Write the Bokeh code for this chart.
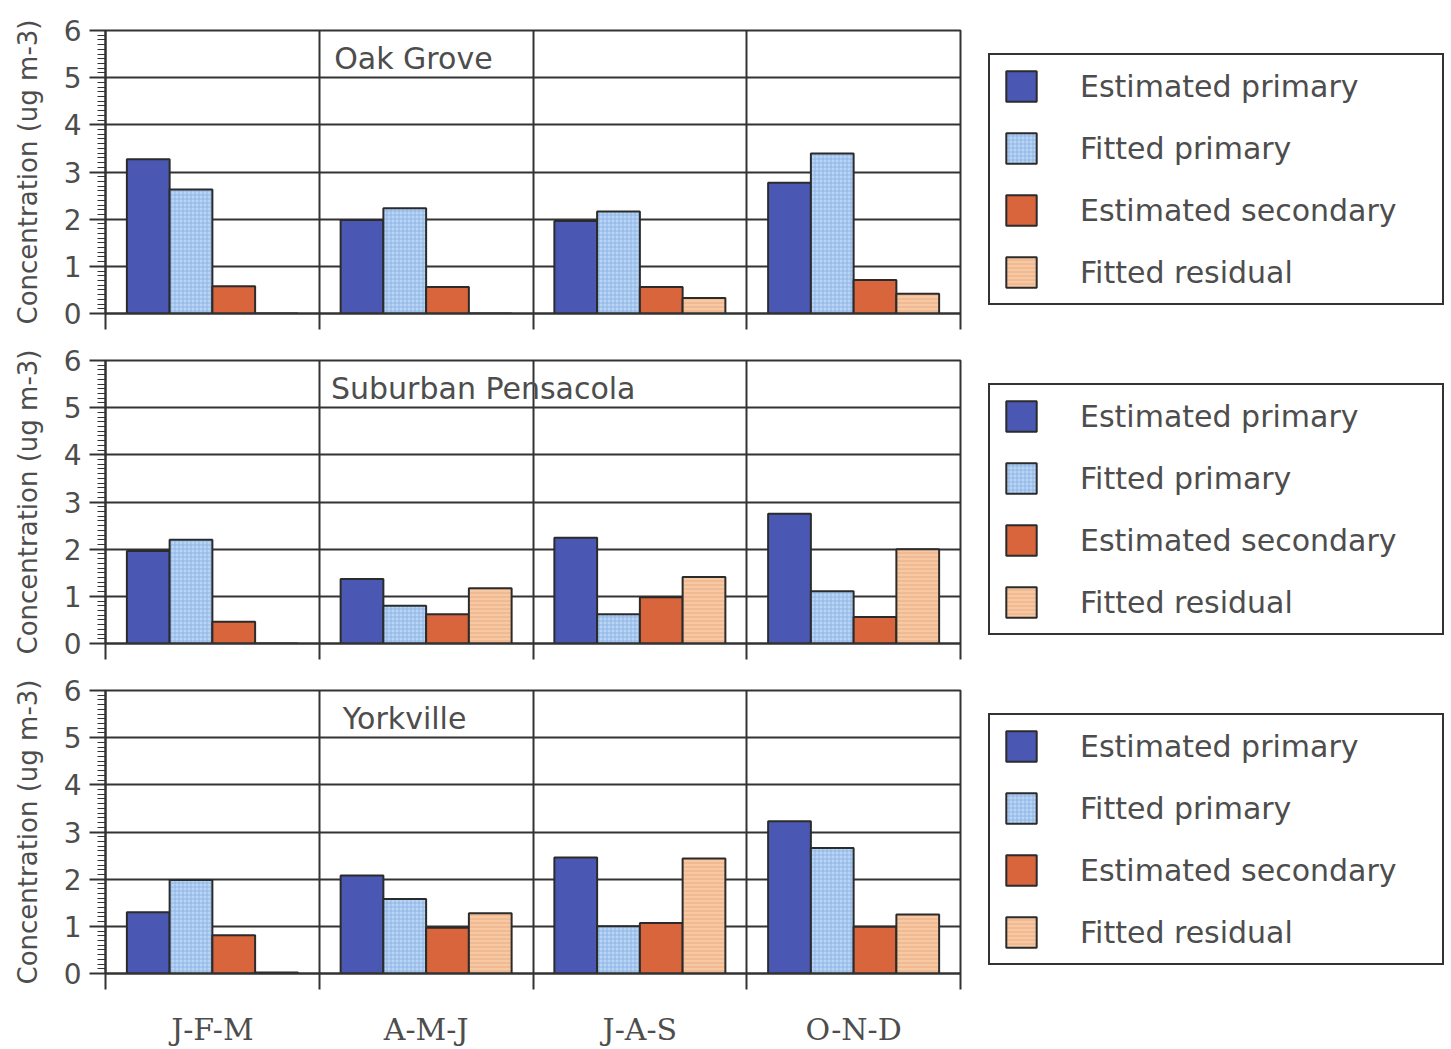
from bokeh.plotting import figure
from bokeh.models import Range1d, FixedTicker, Legend, LegendItem, Label
from bokeh.layouts import column
from bokeh.embed import file_html
from bokeh.resources import INLINE

# ---------------- data ----------------
seasons = ["J-F-M", "A-M-J", "J-A-S", "O-N-D"]
series_names = ["Estimated primary", "Fitted primary", "Estimated secondary", "Fitted residual"]
sites = ["Oak Grove", "Suburban Pensacola", "Yorkville"]

oak_est_primary = [3.27, 1.98, 1.96, 2.77]
oak_fit_primary = [2.63, 2.23, 2.16, 3.39]
oak_est_secondary = [0.58, 0.56, 0.56, 0.71]
oak_fit_residual = [0.0, 0.0, 0.33, 0.42]

pen_est_primary = [1.96, 1.37, 2.24, 2.75]
pen_fit_primary = [2.20, 0.80, 0.62, 1.11]
pen_est_secondary = [0.46, 0.62, 0.98, 0.56]
pen_fit_residual = [0.0, 1.17, 1.41, 2.00]

york_est_primary = [1.30, 2.08, 2.46, 3.23]
york_fit_primary = [1.98, 1.58, 1.00, 2.66]
york_est_secondary = [0.81, 0.97, 1.07, 0.99]
york_fit_residual = [0.02, 1.28, 2.44, 1.25]

y_ticks = [0, 1, 2, 3, 4, 5, 6]

site_data = [
    [oak_est_primary, oak_fit_primary, oak_est_secondary, oak_fit_residual],
    [pen_est_primary, pen_fit_primary, pen_est_secondary, pen_fit_residual],
    [york_est_primary, york_fit_primary, york_est_secondary, york_fit_residual],
]
title_x = [1.07, 1.055, 1.11]

# ---------------- style ----------------
fills = ["#4a58b4", "#b8d5f6", "#d8653b", "#f7c8a2"]
hatches = [None, "+", None, "-"]
hatch_colors = ["#4a58b4", "#8aaedf", "#d8653b", "#e2a57e"]
offsets = [-0.3, -0.1, 0.1, 0.3]
bar_w = 0.2
dark = "#333333"
txt = "#4d4d4d"
sans = "DejaVu Sans"

L_B, R_B, T_B = 105, 37, 30
FRAME_W, FRAME_H = 855, 283

figs = []
for k, site in enumerate(sites):
    last = (k == len(sites) - 1)
    bottom = 76 if last else 17
    p = figure(frame_width=FRAME_W, frame_height=FRAME_H,
               x_range=Range1d(0, len(seasons)), y_range=Range1d(0, 6),
               output_backend="svg", toolbar_location=None, tools="",
               min_border_left=L_B, min_border_right=R_B,
               min_border_top=T_B, min_border_bottom=bottom,
               background_fill_color="white", border_fill_color="white")
    p.outline_line_color = dark
    p.outline_line_width = 2

    renderers = []
    for j, name in enumerate(series_names):
        xs = [i + 0.5 + offsets[j] for i in range(len(seasons))]
        kw = dict(x=xs, top=site_data[k][j], width=bar_w, bottom=0,
                  fill_color=fills[j], line_color="#2b2b2b", line_width=2)
        if hatches[j]:
            kw.update(hatch_pattern=hatches[j], hatch_color=hatch_colors[j],
                      hatch_scale=4, hatch_weight=0.8)
        r = p.vbar(**kw)
        renderers.append(r)

    # y axis
    yax = p.yaxis[0]
    yax.ticker = FixedTicker(ticks=y_ticks,
                             minor_ticks=[t / 10 for t in range(0, 61)])
    yax.axis_label = "Concentration (ug m-3)"
    yax.axis_label_text_font = sans
    yax.axis_label_text_font_size = "26px"
    yax.axis_label_text_font_style = "normal"
    yax.axis_label_text_color = txt
    yax.axis_label_standoff = 18
    yax.major_label_text_font = sans
    yax.major_label_text_font_size = "28px"
    yax.major_label_text_color = txt
    yax.major_label_standoff = 8
    yax.major_tick_out = 16
    yax.major_tick_in = 0
    yax.minor_tick_out = 8
    yax.minor_tick_in = 0
    yax.major_tick_line_color = dark
    yax.major_tick_line_width = 2
    yax.minor_tick_line_color = dark
    yax.minor_tick_line_width = 1
    yax.axis_line_color = dark
    yax.axis_line_width = 2

    # x axis: boundaries as minor ticks, labels at group centres
    xax = p.xaxis[0]
    boundaries = list(range(len(seasons) + 1))
    xax.axis_line_color = dark
    xax.axis_line_width = 2
    xax.major_tick_line_color = None
    xax.major_tick_in = 0
    xax.minor_tick_in = 0
    xax.minor_tick_out = 16
    xax.minor_tick_line_color = dark
    xax.minor_tick_line_width = 2
    if last:
        xax.ticker = FixedTicker(ticks=[i + 0.5 for i in range(len(seasons))],
                                 minor_ticks=boundaries)
        xax.major_label_overrides = {i + 0.5: s for i, s in enumerate(seasons)}
        xax.major_tick_out = 16
        xax.major_label_standoff = 22
        xax.major_label_text_font = "DejaVu Serif"
        xax.major_label_text_font_size = "30px"
        xax.major_label_text_color = txt
    else:
        xax.ticker = FixedTicker(ticks=[], minor_ticks=boundaries)
        xax.major_tick_out = 0
        xax.major_label_standoff = 0

    # grids
    p.ygrid.ticker = FixedTicker(ticks=y_ticks)
    p.ygrid.grid_line_color = dark
    p.ygrid.grid_line_width = 2
    p.xgrid.ticker = FixedTicker(ticks=list(range(1, len(seasons))))
    p.xgrid.grid_line_color = dark
    p.xgrid.grid_line_width = 2

    # site title
    p.add_layout(Label(x=title_x[k], y=5.4, text=site, text_font=sans,
                       text_font_size="30px", text_color=txt,
                       text_baseline="middle", text_align="left"))

    # legend in the right side panel
    items = [LegendItem(label=n, renderers=[r]) for n, r in zip(series_names, renderers)]
    leg = Legend(items=items, location=(28, 8))
    leg.glyph_width = 38
    leg.glyph_height = 38
    leg.label_standoff = 40
    leg.spacing = 24
    leg.padding = 12
    leg.margin = 0
    leg.label_width = 350
    leg.label_height = 38
    leg.label_text_font = sans
    leg.label_text_font_size = "30px"
    leg.label_text_color = txt
    leg.border_line_color = "#333333"
    leg.border_line_alpha = 1.0
    leg.border_line_width = 2
    leg.background_fill_color = "white"
    leg.background_fill_alpha = 1.0
    p.add_layout(leg, "right")

    figs.append(p)

layout = column(*figs, spacing=0)
open("out.html", "w").write(file_html(layout, INLINE))
